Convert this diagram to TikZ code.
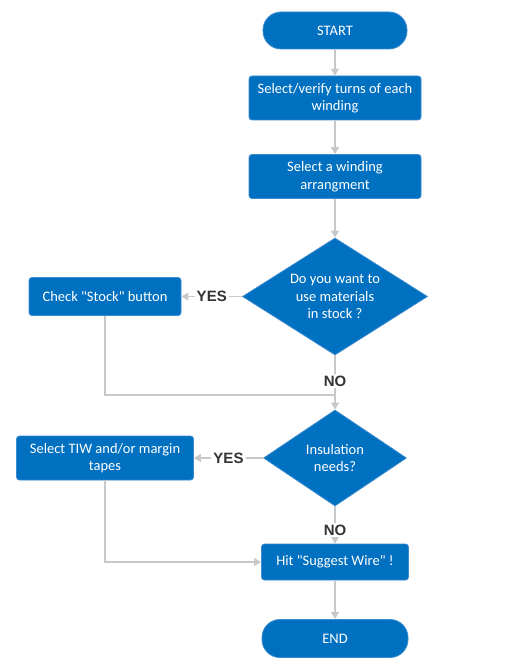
\documentclass[tikz,border=0pt]{standalone}
\usepackage{fontspec}
\setmainfont{Carlito}[Ligatures=TeXOff]
\newfontfamily\labfont{Liberation Sans}
\usetikzlibrary{shapes.geometric, arrows.meta, positioning}
\definecolor{colBlue}{RGB}{0, 112, 192}
\definecolor{colEdge}{RGB}{58, 138, 208}
\definecolor{colLine}{RGB}{200, 200, 200}
\definecolor{colLabel}{RGB}{51, 51, 51}

\begin{document}
\begin{tikzpicture}[x=1pt, y=-1pt,
    every node/.style={font=\fontsize{14.5}{17.5}\selectfont},
    terminal/.style={rectangle, rounded corners=18pt, fill=colBlue, draw=colEdge, line width=0.8pt, text=white, minimum width=144pt, minimum height=37pt},
    process/.style={rectangle, rounded corners=3pt, fill=colBlue, draw=colEdge, line width=0.8pt, text=white, align=center, inner sep=2pt},
    decision/.style={diamond, fill=colBlue, draw=colEdge, line width=0.8pt, text=white, align=center, inner sep=0pt},
    flow/.style={draw=colLine, line width=1.2pt, -{Triangle[width=8pt, length=7pt]}},
    answer/.style={font=\labfont\bfseries\fontsize{15}{18}\selectfont, text=colLabel, fill=white, inner sep=2pt}]
    \useasboundingbox (0, 0) rectangle (521, 666);

    % --- Main column ---
    \node[terminal] (start) at (335, 30.5) {START};
    \node[process, minimum width=172pt, minimum height=44pt] (turns) at (335, 98) {Select/verify turns of each\\winding};
    \node[process, minimum width=172pt, minimum height=44pt] (arrange) at (335, 176.5) {Select a winding\\arrangment};
    \node[decision, shape aspect=1.58, minimum width=185pt, minimum height=117pt] (stock) at (335, 296.5) {Do you want to\\use materials\\in stock ?};
    \node[decision, shape aspect=1.49, minimum width=143pt, minimum height=96pt] (insul) at (335, 458) {Insulation\\needs?};
    \node[process, minimum width=147pt, minimum height=36pt] (hit) at (335, 562) {Hit "Suggest Wire" !};
    \node[terminal, minimum width=146pt, minimum height=38pt] (end) at (335, 638.5) {END};

    % --- Side boxes (YES) ---
    \node[process, minimum width=152pt, minimum height=38pt] (check) at (105, 296.5) {Check "Stock" button};
    \node[process, minimum width=177pt, minimum height=44pt] (tiw) at (105, 458) {Select TIW and/or margin\\tapes};
    \coordinate (join1) at (335, 395); % Sambungan di bawah NO

    % Connectors
    \draw[flow] (start) -- (turns);
    \draw[flow] (turns) -- (arrange);
    \draw[flow] (arrange) -- (stock);
    \draw[flow] (stock) -- node[answer] {YES} (check);
    \draw[flow] (stock) -- node[answer, pos=0.47] {NO} (insul);
    \draw[draw=colLine, line width=1.2pt] (check) |- (join1);
    \draw[flow] (insul) -- node[answer] {YES} (tiw);
    \draw[flow] (insul) -- node[answer, pos=0.63] {NO} (hit);
    \draw[flow] (tiw) |- (hit);
    \draw[flow] (hit) -- (end);

\end{tikzpicture}
\end{document}
